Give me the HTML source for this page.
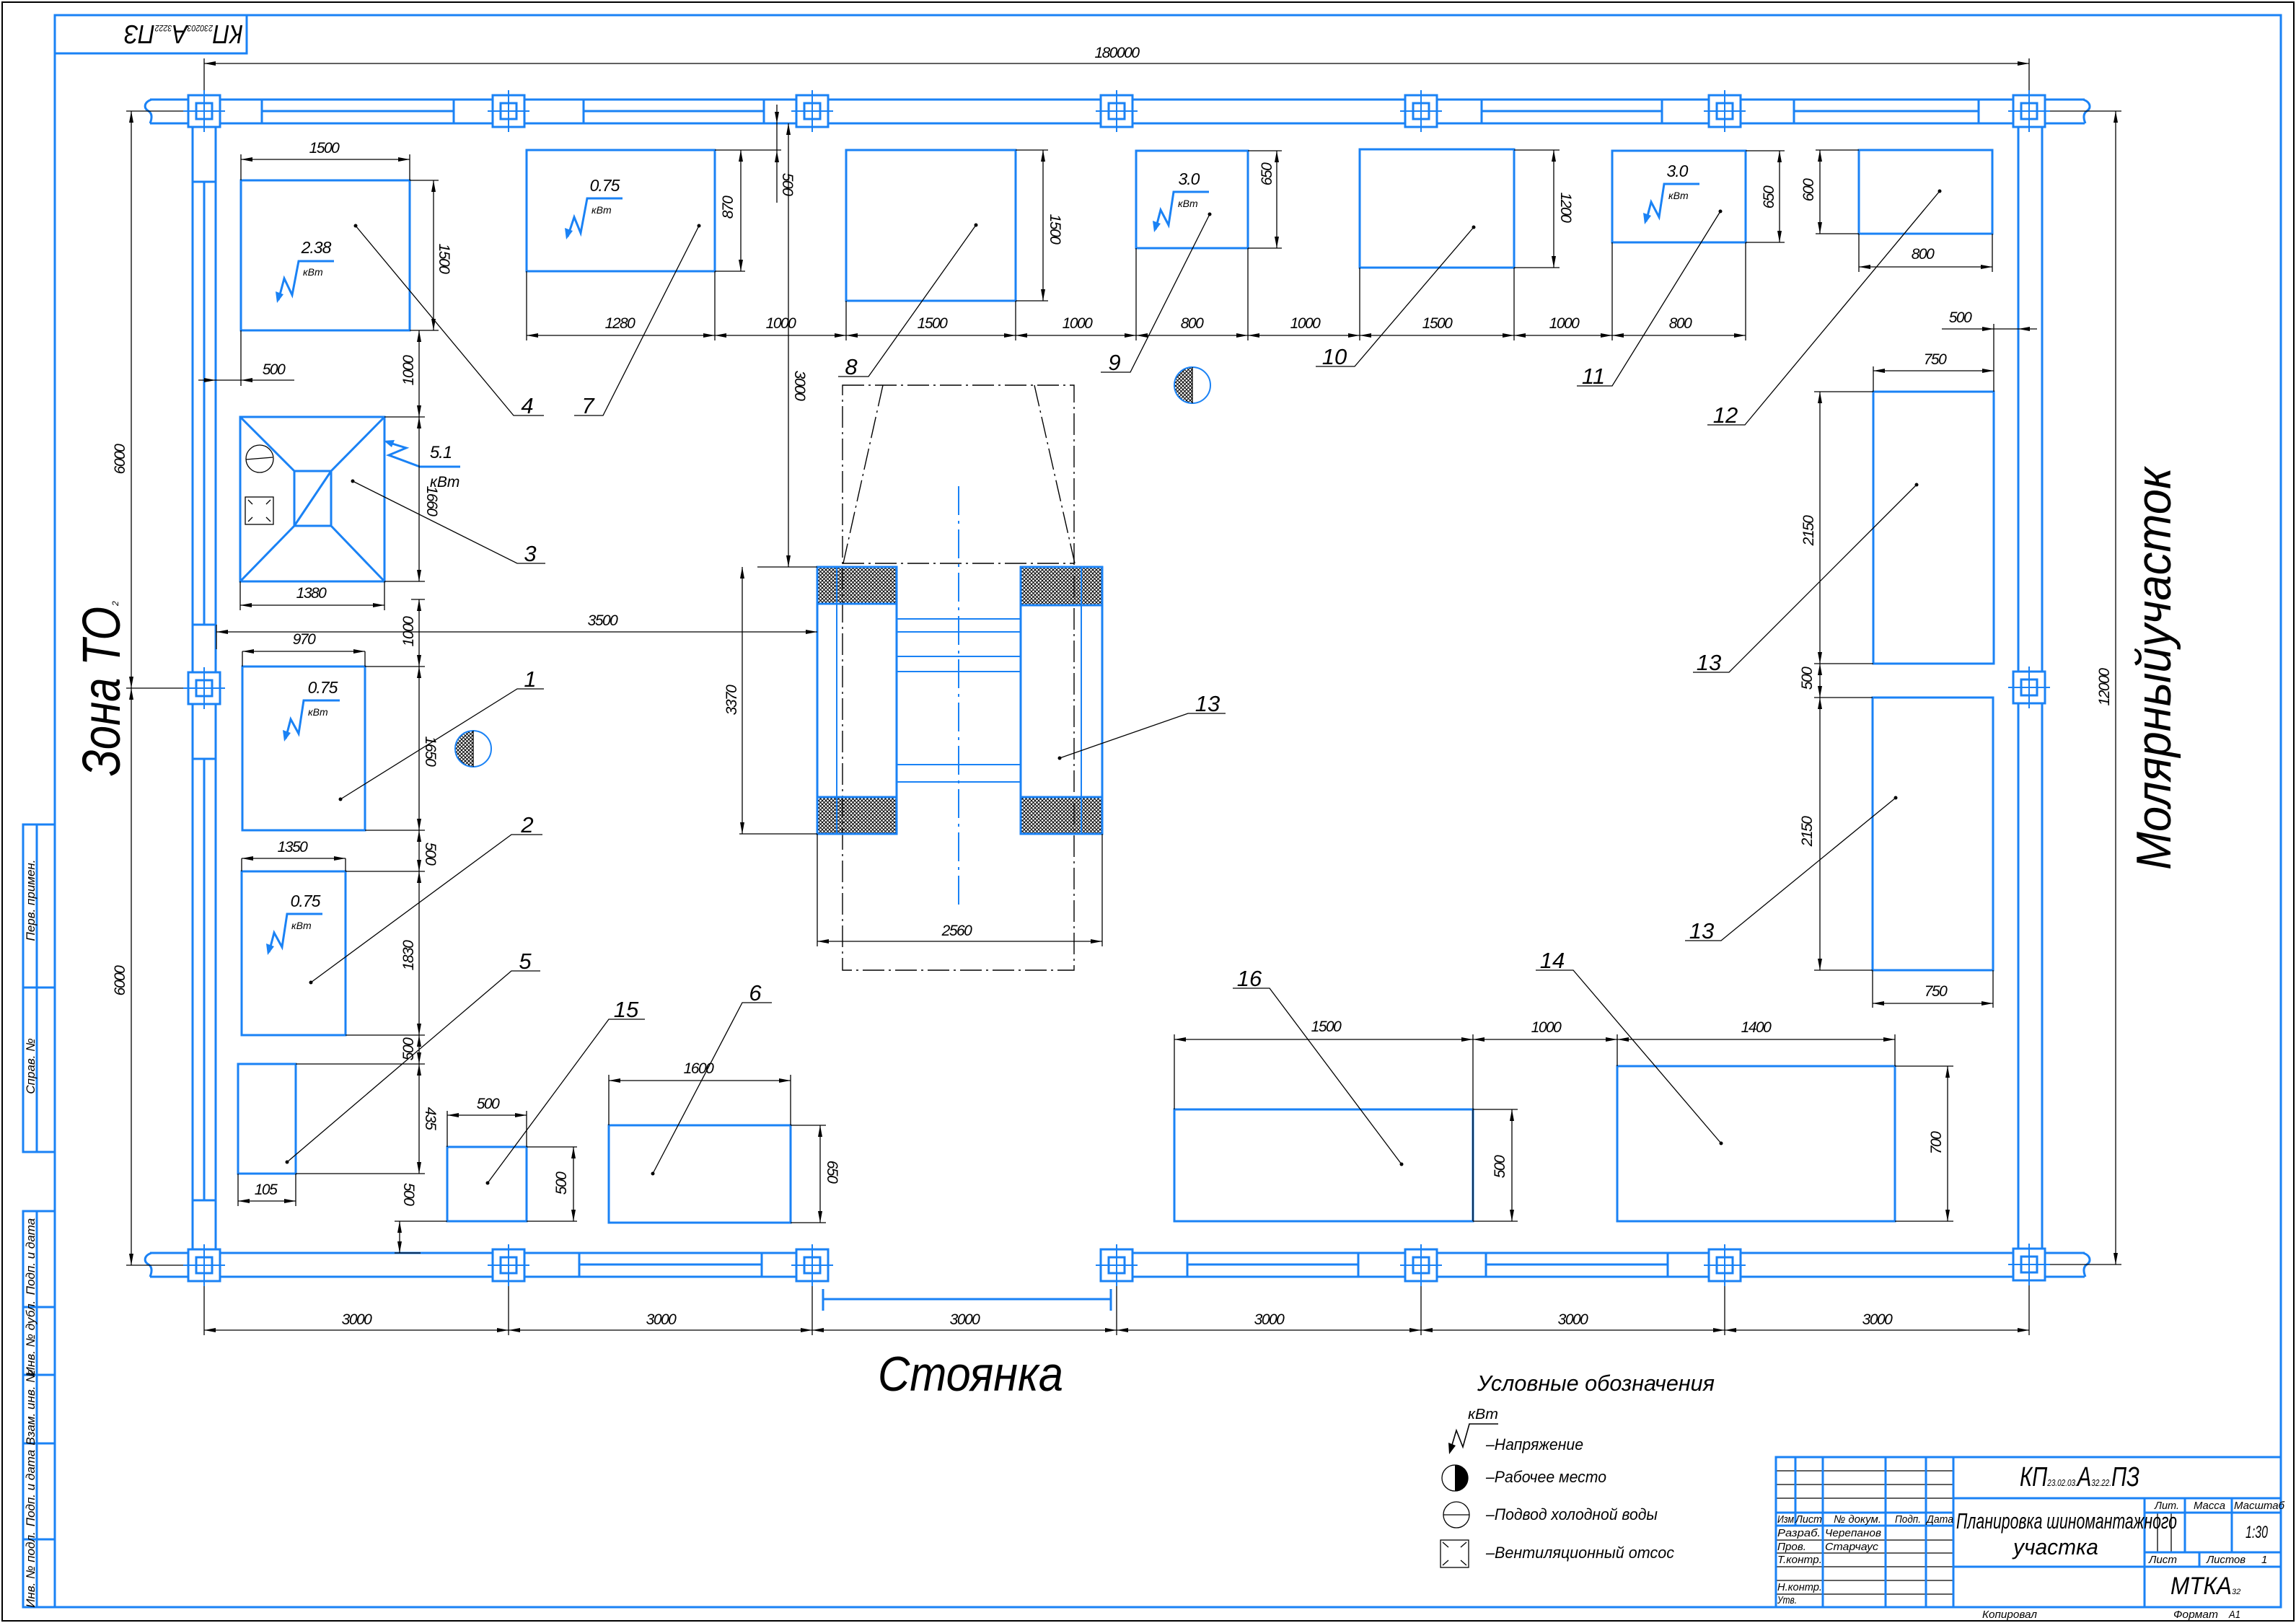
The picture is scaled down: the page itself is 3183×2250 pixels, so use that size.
<!DOCTYPE html>
<html><head><meta charset="utf-8"><title>Планировка шиномантажного участка</title>
<style>
html,body{margin:0;padding:0;background:#fff}
svg{display:block}
.b{stroke:#1a82f5;stroke-width:3;fill:none}
.bw{stroke:#1a82f5;stroke-width:3;fill:#fff}
.b2{stroke:#1a82f5;stroke-width:2;fill:none}
.k{stroke:#000;stroke-width:1.3;fill:none}
.d{stroke:#000;stroke-width:1.3;fill:none;marker-start:url(#a);marker-end:url(#a)}
.dd{stroke:#000;stroke-width:1.4;fill:none;stroke-dasharray:30 6 3 6}
text{font-family:"Liberation Sans","Noto Sans CJK SC",sans-serif;font-style:italic;fill:#000}
.n{font-size:21px;letter-spacing:-1.5px}
.l{font-size:31px}
.s{font-size:15px}
.v{font-size:17px}
</style></head><body>
<svg width="3183" height="2250" viewBox="0 0 3183 2250" xmlns="http://www.w3.org/2000/svg">
<defs>
<marker id="a" viewBox="0 0 16 6" refX="16" refY="3" markerWidth="16" markerHeight="6" markerUnits="userSpaceOnUse" orient="auto-start-reverse"><path d="M0,0L16,3L0,6z" fill="#000"/></marker>
<pattern id="h" width="5" height="5" patternUnits="userSpaceOnUse"><path d="M0,0L5,5M5,0L0,5" stroke="#000" stroke-width="1"/></pattern>
</defs>
<rect width="3183" height="2250" fill="#fff"/>
<!-- frames -->
<rect x="3" y="3" width="3177" height="2244" fill="none" stroke="#000" stroke-width="2"/>
<rect x="76" y="21" width="3086" height="2207" class="b"/>
<rect x="76" y="21" width="266" height="53" class="b"/>
<text transform="translate(337,35) rotate(180)" font-size="36" textLength="165" lengthAdjust="spacingAndGlyphs">КП<tspan font-size="12">230203</tspan>А<tspan font-size="12">3222</tspan>ПЗ</text>

<!-- side strip -->
<g class="b">
<rect x="32" y="1143" width="44" height="454"/>
<line x1="51" y1="1143" x2="51" y2="1597"/>
<line x1="32" y1="1369" x2="76" y2="1369"/>
<rect x="32" y="1679" width="44" height="549"/>
<line x1="51" y1="1679" x2="51" y2="2228"/>
<line x1="32" y1="1812" x2="76" y2="1812"/>
<line x1="32" y1="1906" x2="76" y2="1906"/>
<line x1="32" y1="2001" x2="76" y2="2001"/>
<line x1="32" y1="2134" x2="76" y2="2134"/>
</g>
<g class="v">
<text transform="translate(48,1248) rotate(-90)" text-anchor="middle">Перв. примен.</text>
<text transform="translate(48,1478) rotate(-90)" text-anchor="middle">Справ. №</text>
<text transform="translate(48,1742) rotate(-90)" text-anchor="middle">Подп. и дата</text>
<text transform="translate(48,1855) rotate(-90)" text-anchor="middle">Инв. № дубл.</text>
<text transform="translate(48,1951) rotate(-90)" text-anchor="middle">Взам. инв. №</text>
<text transform="translate(48,2063) rotate(-90)" text-anchor="middle">Подп. и дата</text>
<text transform="translate(48,2176) rotate(-90)" text-anchor="middle">Инв. № подл.</text>
</g>

<!-- walls -->
<g class="b">
<line x1="208" y1="138" x2="2890" y2="138"/>
<line x1="208" y1="171" x2="267" y2="171"/>
<line x1="299" y1="171" x2="2798" y2="171"/>
<line x1="2831" y1="171" x2="2890" y2="171"/>
<line x1="267" y1="171" x2="267" y2="1737"/>
<line x1="299" y1="171" x2="299" y2="1737"/>
<line x1="2798" y1="171" x2="2798" y2="1737"/>
<line x1="2831" y1="171" x2="2831" y2="1737"/>
<line x1="208" y1="1737" x2="267" y2="1737"/>
<line x1="299" y1="1737" x2="1105" y2="1737"/>
<line x1="1570" y1="1737" x2="2798" y2="1737"/>
<line x1="2831" y1="1737" x2="2890" y2="1737"/>
<line x1="208" y1="1770" x2="1105" y2="1770"/>
<line x1="1570" y1="1770" x2="2890" y2="1770"/>
<path d="M210,138 C199,142 199,150 206,154 C212,158 210,166 208,171"/>
<path d="M2888,138 C2899,142 2899,150 2893,154 C2887,158 2889,166 2891,171"/>
<path d="M210,1737 C199,1741 199,1749 206,1753 C212,1757 210,1765 208,1770"/>
<path d="M2888,1737 C2899,1741 2899,1749 2893,1753 C2887,1757 2889,1765 2891,1770"/>
<!-- top windows -->
<line x1="363" y1="138" x2="363" y2="171"/><line x1="629" y1="138" x2="629" y2="171"/><line x1="363" y1="154" x2="629" y2="154"/>
<line x1="809" y1="138" x2="809" y2="171"/><line x1="1059" y1="138" x2="1059" y2="171"/><line x1="809" y1="154" x2="1059" y2="154"/>
<line x1="2054" y1="138" x2="2054" y2="171"/><line x1="2304" y1="138" x2="2304" y2="171"/><line x1="2054" y1="154" x2="2304" y2="154"/>
<line x1="2487" y1="138" x2="2487" y2="171"/><line x1="2743" y1="138" x2="2743" y2="171"/><line x1="2487" y1="154" x2="2743" y2="154"/>
<!-- left windows -->
<line x1="267" y1="252" x2="299" y2="252"/><line x1="267" y1="866" x2="299" y2="866"/><line x1="283" y1="252" x2="283" y2="866"/>
<line x1="267" y1="1052" x2="299" y2="1052"/><line x1="267" y1="1664" x2="299" y2="1664"/><line x1="283" y1="1052" x2="283" y2="1664"/>
<!-- bottom windows -->
<line x1="803" y1="1737" x2="803" y2="1770"/><line x1="1056" y1="1737" x2="1056" y2="1770"/><line x1="803" y1="1753" x2="1056" y2="1753"/>
<line x1="1646" y1="1737" x2="1646" y2="1770"/><line x1="1883" y1="1737" x2="1883" y2="1770"/><line x1="1646" y1="1753" x2="1883" y2="1753"/>
<line x1="2060" y1="1737" x2="2060" y2="1770"/><line x1="2312" y1="1737" x2="2312" y2="1770"/><line x1="2060" y1="1753" x2="2312" y2="1753"/>
<!-- door -->
<line x1="1141" y1="1801" x2="1540" y2="1801"/>
<line x1="1141" y1="1787" x2="1141" y2="1817"/><line x1="1540" y1="1787" x2="1540" y2="1817"/>
</g>

<!-- black ext lines through columns -->
<g class="k">
<line x1="283" y1="81" x2="283" y2="183"/><line x1="2813" y1="81" x2="2813" y2="183"/>
<line x1="175" y1="154" x2="311" y2="154"/><line x1="175" y1="954" x2="311" y2="954"/><line x1="175" y1="1754" x2="311" y2="1754"/>
<line x1="2785" y1="154" x2="2941" y2="154"/><line x1="2785" y1="953" x2="2841" y2="953"/><line x1="2785" y1="1753" x2="2941" y2="1753"/>
<line x1="283" y1="1726" x2="283" y2="1851"/><line x1="705" y1="1726" x2="705" y2="1851"/><line x1="1126" y1="1726" x2="1126" y2="1851"/><line x1="1548" y1="1726" x2="1548" y2="1851"/><line x1="1970" y1="1726" x2="1970" y2="1851"/><line x1="2391" y1="1726" x2="2391" y2="1851"/><line x1="2813" y1="1726" x2="2813" y2="1851"/>
</g>

<!-- columns -->
<g>
<g transform="translate(283,154)"><rect x="-22" y="-22" width="44" height="44" class="bw"/><rect x="-11" y="-11" width="22" height="22" class="b"/><path d="M-29,0H29M0,-29V29" class="b2"/></g>
<g transform="translate(705,154)"><rect x="-22" y="-22" width="44" height="44" class="bw"/><rect x="-11" y="-11" width="22" height="22" class="b"/><path d="M-29,0H29M0,-29V29" class="b2"/></g>
<g transform="translate(1126,154)"><rect x="-22" y="-22" width="44" height="44" class="bw"/><rect x="-11" y="-11" width="22" height="22" class="b"/><path d="M-29,0H29M0,-29V29" class="b2"/></g>
<g transform="translate(1548,154)"><rect x="-22" y="-22" width="44" height="44" class="bw"/><rect x="-11" y="-11" width="22" height="22" class="b"/><path d="M-29,0H29M0,-29V29" class="b2"/></g>
<g transform="translate(1970,154)"><rect x="-22" y="-22" width="44" height="44" class="bw"/><rect x="-11" y="-11" width="22" height="22" class="b"/><path d="M-29,0H29M0,-29V29" class="b2"/></g>
<g transform="translate(2391,154)"><rect x="-22" y="-22" width="44" height="44" class="bw"/><rect x="-11" y="-11" width="22" height="22" class="b"/><path d="M-29,0H29M0,-29V29" class="b2"/></g>
<g transform="translate(2813,154)"><rect x="-22" y="-22" width="44" height="44" class="bw"/><rect x="-11" y="-11" width="22" height="22" class="b"/><path d="M-29,0H29M0,-29V29" class="b2"/></g>
<g transform="translate(283,954)"><rect x="-22" y="-22" width="44" height="44" class="bw"/><rect x="-11" y="-11" width="22" height="22" class="b"/><path d="M-29,0H29M0,-29V29" class="b2"/></g>
<g transform="translate(2813,953)"><rect x="-22" y="-22" width="44" height="44" class="bw"/><rect x="-11" y="-11" width="22" height="22" class="b"/><path d="M-29,0H29M0,-29V29" class="b2"/></g>
<g transform="translate(283,1754)"><rect x="-22" y="-22" width="44" height="44" class="bw"/><rect x="-11" y="-11" width="22" height="22" class="b"/><path d="M-29,0H29M0,-29V29" class="b2"/></g>
<g transform="translate(705,1754)"><rect x="-22" y="-22" width="44" height="44" class="bw"/><rect x="-11" y="-11" width="22" height="22" class="b"/><path d="M-29,0H29M0,-29V29" class="b2"/></g>
<g transform="translate(1126,1754)"><rect x="-22" y="-22" width="44" height="44" class="bw"/><rect x="-11" y="-11" width="22" height="22" class="b"/><path d="M-29,0H29M0,-29V29" class="b2"/></g>
<g transform="translate(1548,1754)"><rect x="-22" y="-22" width="44" height="44" class="bw"/><rect x="-11" y="-11" width="22" height="22" class="b"/><path d="M-29,0H29M0,-29V29" class="b2"/></g>
<g transform="translate(1970,1754)"><rect x="-22" y="-22" width="44" height="44" class="bw"/><rect x="-11" y="-11" width="22" height="22" class="b"/><path d="M-29,0H29M0,-29V29" class="b2"/></g>
<g transform="translate(2391,1754)"><rect x="-22" y="-22" width="44" height="44" class="bw"/><rect x="-11" y="-11" width="22" height="22" class="b"/><path d="M-29,0H29M0,-29V29" class="b2"/></g>
<g transform="translate(2813,1753)"><rect x="-22" y="-22" width="44" height="44" class="bw"/><rect x="-11" y="-11" width="22" height="22" class="b"/><path d="M-29,0H29M0,-29V29" class="b2"/></g>
</g>

<!-- main dims -->
<g class="d">
<line x1="283" y1="88" x2="2813" y2="88"/>
<line x1="182" y1="154" x2="182" y2="954"/><line x1="182" y1="954" x2="182" y2="1754"/>
<line x1="2933" y1="154" x2="2933" y2="1753"/>
<line x1="283" y1="1844" x2="705" y2="1844"/><line x1="705" y1="1844" x2="1126" y2="1844"/><line x1="1126" y1="1844" x2="1548" y2="1844"/><line x1="1548" y1="1844" x2="1970" y2="1844"/><line x1="1970" y1="1844" x2="2391" y2="1844"/><line x1="2391" y1="1844" x2="2813" y2="1844"/>
</g>
<g class="n">
<text x="1548" y="80" text-anchor="middle">180000</text>
<text transform="translate(173,637) rotate(-90)" text-anchor="middle">6000</text>
<text transform="translate(173,1360) rotate(-90)" text-anchor="middle">6000</text>
<text transform="translate(2924,953) rotate(-90)" text-anchor="middle">12000</text>
<text x="494" y="1836" text-anchor="middle">3000</text>
<text x="916" y="1836" text-anchor="middle">3000</text>
<text x="1337" y="1836" text-anchor="middle">3000</text>
<text x="1759" y="1836" text-anchor="middle">3000</text>
<text x="2180" y="1836" text-anchor="middle">3000</text>
<text x="2602" y="1836" text-anchor="middle">3000</text>
</g>

<!-- equipment boxes -->
<g class="b">
<rect x="334" y="250" width="234" height="208"/>
<rect x="730" y="208" width="261" height="168"/>
<rect x="1173" y="208" width="235" height="209"/>
<rect x="1575" y="209" width="155" height="135"/>
<rect x="1885" y="207" width="214" height="164"/>
<rect x="2235" y="209" width="185" height="127"/>
<rect x="2577" y="208" width="185" height="116"/>
<rect x="333" y="578" width="200" height="228"/>
<rect x="408" y="653" width="51" height="76"/>
<path d="M333,578L408,653M533,578L459,653M333,806L408,729M533,806L459,729M459,653L408,729"/>
<rect x="336" y="924" width="170" height="227"/>
<rect x="335" y="1208" width="144" height="227"/>
<rect x="330" y="1475" width="80" height="152"/>
<rect x="620" y="1590" width="110" height="103"/>
<rect x="844" y="1560" width="252" height="135"/>
<rect x="1628" y="1538" width="414" height="155"/>
<rect x="2242" y="1478" width="385" height="215"/>
<rect x="2597" y="543" width="167" height="377"/>
<rect x="2596" y="967" width="167" height="378"/>
</g>
<!-- obj 3 symbols -->
<circle cx="360" cy="636" r="19" class="k"/><line x1="341" y1="637" x2="378" y2="634" class="k"/>
<rect x="340" y="689" width="39" height="38" class="k"/>
<path d="M344,693L350,699M375,693L369,699M344,723L350,717M375,723L369,717" class="k"/>

<!-- kBт symbols -->
<g>
<polyline points="463,362 414,362 405,409 394,386 386,416" class="b"/><polygon points="384,420 382,404 393,408" fill="#1a82f5"/>
<text x="438" y="351" text-anchor="middle" font-size="23" letter-spacing="-1">2.38</text><text x="420" y="382" font-size="14">кВт</text>
<polyline points="863,275 814,275 805,323 796,301 787,328" class="b"/><polygon points="785,332 783,316 794,320" fill="#1a82f5"/>
<text x="838" y="265" text-anchor="middle" font-size="23" letter-spacing="-1">0.75</text><text x="820" y="296" font-size="14">кВт</text>
<polyline points="471,971 421,971 414,1017 403,997 396,1024" class="b"/><polygon points="394,1028 392,1012 403,1016" fill="#1a82f5"/>
<text x="447" y="961" text-anchor="middle" font-size="23" letter-spacing="-1">0.75</text><text x="427" y="992" font-size="14">кВт</text>
<polyline points="447,1267 398,1267 391,1313 380,1293 373,1320" class="b"/><polygon points="371,1324 369,1308 380,1312" fill="#1a82f5"/>
<text x="423" y="1257" text-anchor="middle" font-size="23" letter-spacing="-1">0.75</text><text x="404" y="1288" font-size="14">кВт</text>
<polyline points="1676,266 1627,266 1620,312 1609,291 1602,318" class="b"/><polygon points="1600,322 1598,306 1609,310" fill="#1a82f5"/>
<text x="1648" y="256" text-anchor="middle" font-size="23" letter-spacing="-1">3.0</text><text x="1633" y="287" font-size="14">кВт</text>
<polyline points="2356,255 2307,255 2300,301 2289,280 2282,307" class="b"/><polygon points="2280,311 2278,295 2289,299" fill="#1a82f5"/>
<text x="2325" y="245" text-anchor="middle" font-size="23" letter-spacing="-1">3.0</text><text x="2313" y="276" font-size="14">кВт</text>
<polyline points="638,647 582,647 539,631 563,621 537,613" class="b"/><polygon points="532,611 547,610 543,620" fill="#1a82f5"/>
<text x="611" y="635" text-anchor="middle" font-size="24" letter-spacing="-1">5.1</text><text x="596" y="675" font-size="21">кВт</text>
</g>

<!-- workplace circles -->
<path d="M1653,509 A25,25 0 0 0 1653,559 Z" fill="url(#h)"/><circle cx="1653" cy="534" r="25" class="b2"/><line x1="1653" y1="509" x2="1653" y2="559" class="k"/>
<path d="M656,1013 A25,25 0 0 0 656,1063 Z" fill="url(#h)"/><circle cx="656" cy="1038" r="25" class="b2"/><line x1="656" y1="1013" x2="656" y2="1063" class="k"/>

<!-- lift -->
<rect x="1168" y="534" width="321" height="811" class="dd"/>
<path d="M1224,534L1169,781M1434,534L1490,781M1168,781H1489" class="dd"/>
<line x1="1329" y1="674" x2="1329" y2="1261" stroke="#1a82f5" stroke-width="2" stroke-dasharray="40 8 4 8"/>
<rect x="1133" y="786" width="110" height="51" fill="url(#h)"/>
<rect x="1133" y="1105" width="110" height="51" fill="url(#h)"/>
<rect x="1415" y="786" width="113" height="53" fill="url(#h)"/>
<rect x="1415" y="1105" width="113" height="51" fill="url(#h)"/>
<g class="b">
<rect x="1133" y="786" width="110" height="370"/>
<rect x="1415" y="786" width="113" height="370"/>
<path d="M1133,837H1243M1133,1105H1243M1415,839H1528M1415,1105H1528"/>
</g>
<g class="b2">
<path d="M1160,786V1156M1499,786V1156"/>
<path d="M1243,858H1415M1243,876H1415M1243,910H1415M1243,931H1415M1243,1060H1415M1243,1084H1415"/>
</g>

<!-- extension lines -->
<g class="k">
<path d="M334,214V250M568,214V250M568,250H608M568,458H608M334,458V535"/>
<path d="M533,578H589M533,806H589M333,806V846M533,806V846M570,831H589"/>
<path d="M991,208H1083M991,376H1033M730,376V472M991,376V472"/>
<path d="M1173,417V472M1408,417V472M1408,208H1453M1408,417H1453"/>
<path d="M1575,344V472M1730,344V472M1730,209H1777M1730,344H1777"/>
<path d="M1885,371V472M2099,371V472M2099,208H2162M2099,371H2162"/>
<path d="M2235,336V472M2420,336V472M2420,209H2474M2420,336H2474"/>
<path d="M2517,208H2577M2517,324H2577M2577,324V377M2762,324V377"/>
<path d="M2764,449V543M2597,508V543M2515,543H2597M2515,920H2597M2515,967H2596M2515,1345H2596M2596,1345V1397M2763,1345V1397"/>
<path d="M1050,786H1133M1025,1156H1133M1133,1156V1312M1528,1156V1312M300,866V900"/>
<path d="M506,924H589M506,1151H589M479,1208H589M479,1435H589M410,1475H589M410,1627H589"/>
<path d="M336,903V924M506,903V924M335,1190V1208M479,1190V1208"/>
<path d="M330,1627V1672M410,1627V1672M547,1693H620M547,1737H583"/>
<path d="M620,1540V1590M730,1540V1590M730,1590H800M730,1693H800"/>
<path d="M844,1490V1560M1096,1490V1560M1096,1560H1145M1096,1695H1145"/>
<path d="M1628,1434V1538M2042,1434V1693M2042,1538H2104M2042,1693H2104"/>
<path d="M2242,1434V1478M2627,1434V1478M2627,1478H2708M2627,1693H2708"/>
</g>

<!-- dims -->
<g class="d">
<line x1="334" y1="221" x2="568" y2="221"/>
<line x1="601" y1="250" x2="601" y2="458"/>
<line x1="581" y1="458" x2="581" y2="578"/>
<line x1="581" y1="578" x2="581" y2="806"/>
<line x1="333" y1="839" x2="533" y2="839"/>
<line x1="1027" y1="208" x2="1027" y2="376"/>
<line x1="730" y1="465" x2="991" y2="465"/>
<line x1="991" y1="465" x2="1173" y2="465"/>
<line x1="1173" y1="465" x2="1408" y2="465"/>
<line x1="1408" y1="465" x2="1575" y2="465"/>
<line x1="1575" y1="465" x2="1730" y2="465"/>
<line x1="1730" y1="465" x2="1885" y2="465"/>
<line x1="1885" y1="465" x2="2099" y2="465"/>
<line x1="2099" y1="465" x2="2235" y2="465"/>
<line x1="2235" y1="465" x2="2420" y2="465"/>
<line x1="1093" y1="171" x2="1093" y2="786"/>
<line x1="1446" y1="208" x2="1446" y2="417"/>
<line x1="1770" y1="209" x2="1770" y2="344"/>
<line x1="2154" y1="208" x2="2154" y2="371"/>
<line x1="2467" y1="209" x2="2467" y2="336"/>
<line x1="2523" y1="208" x2="2523" y2="324"/>
<line x1="2577" y1="370" x2="2762" y2="370"/>
<line x1="2597" y1="514" x2="2764" y2="514"/>
<line x1="2523" y1="543" x2="2523" y2="920"/>
<line x1="2523" y1="920" x2="2523" y2="967"/>
<line x1="2523" y1="967" x2="2523" y2="1345"/>
<line x1="2596" y1="1391" x2="2763" y2="1391"/>
<line x1="300" y1="876" x2="1133" y2="876"/>
<line x1="1029" y1="786" x2="1029" y2="1156"/>
<line x1="1133" y1="1305" x2="1528" y2="1305"/>
<line x1="336" y1="903" x2="506" y2="903"/>
<line x1="581" y1="831" x2="581" y2="924"/>
<line x1="581" y1="924" x2="581" y2="1151"/>
<line x1="581" y1="1151" x2="581" y2="1208"/>
<line x1="335" y1="1190" x2="479" y2="1190"/>
<line x1="581" y1="1208" x2="581" y2="1435"/>
<line x1="581" y1="1435" x2="581" y2="1475"/>
<line x1="581" y1="1475" x2="581" y2="1627"/>
<line x1="330" y1="1665" x2="410" y2="1665"/>
<line x1="554" y1="1693" x2="554" y2="1737"/>
<line x1="620" y1="1546" x2="730" y2="1546"/>
<line x1="795" y1="1590" x2="795" y2="1693"/>
<line x1="844" y1="1498" x2="1096" y2="1498"/>
<line x1="1137" y1="1560" x2="1137" y2="1695"/>
<line x1="1628" y1="1441" x2="2042" y2="1441"/>
<line x1="2096" y1="1538" x2="2096" y2="1693"/>
<line x1="2042" y1="1441" x2="2242" y2="1441"/>
<line x1="2242" y1="1441" x2="2627" y2="1441"/>
<line x1="2700" y1="1478" x2="2700" y2="1693"/>
</g>
<!-- short outside-arrow dims -->
<g class="k">
<line x1="275" y1="527" x2="408" y2="527"/>
<line x1="1077" y1="145" x2="1077" y2="281"/>
<line x1="2692" y1="456" x2="2824" y2="456"/>
</g>
<g fill="#000">
<polygon points="299,527 283,524 283,530"/><polygon points="334,527 350,524 350,530"/>
<polygon points="1077,171 1074,155 1080,155"/><polygon points="1077,209 1074,225 1080,225"/>
<polygon points="2764,456 2748,453 2748,459"/><polygon points="2798,456 2814,453 2814,459"/>
</g>

<!-- dim texts -->
<g class="n">
<text x="449" y="212" text-anchor="middle">1500</text>
<text x="379" y="519" text-anchor="middle">500</text>
<text x="431" y="829" text-anchor="middle">1380</text>
<text x="859" y="455" text-anchor="middle">1280</text>
<text x="1082" y="455" text-anchor="middle">1000</text>
<text x="1292" y="455" text-anchor="middle">1500</text>
<text x="1493" y="455" text-anchor="middle">1000</text>
<text x="1652" y="455" text-anchor="middle">800</text>
<text x="1809" y="455" text-anchor="middle">1000</text>
<text x="1992" y="455" text-anchor="middle">1500</text>
<text x="2168" y="455" text-anchor="middle">1000</text>
<text x="2329" y="455" text-anchor="middle">800</text>
<text x="421" y="893" text-anchor="middle">970</text>
<text x="835" y="867" text-anchor="middle">3500</text>
<text x="405" y="1181" text-anchor="middle">1350</text>
<text x="368" y="1656" text-anchor="middle">105</text>
<text x="676" y="1537" text-anchor="middle">500</text>
<text x="968" y="1488" text-anchor="middle">1600</text>
<text x="1326" y="1297" text-anchor="middle">2560</text>
<text x="1838" y="1430" text-anchor="middle">1500</text>
<text x="2143" y="1431" text-anchor="middle">1000</text>
<text x="2434" y="1431" text-anchor="middle">1400</text>
<text x="2665" y="359" text-anchor="middle">800</text>
<text x="2717" y="447" text-anchor="middle">500</text>
<text x="2682" y="505" text-anchor="middle">750</text>
<text x="2683" y="1381" text-anchor="middle">750</text>
<text transform="translate(573,514) rotate(-90)" text-anchor="middle">1000</text>
<text transform="translate(1016,288) rotate(-90)" text-anchor="middle">870</text>
<text transform="translate(1763,242) rotate(-90)" text-anchor="middle">650</text>
<text transform="translate(2459,274) rotate(-90)" text-anchor="middle">650</text>
<text transform="translate(2514,264) rotate(-90)" text-anchor="middle">600</text>
<text transform="translate(2514,736) rotate(-90)" text-anchor="middle">2150</text>
<text transform="translate(2512,941) rotate(-90)" text-anchor="middle">500</text>
<text transform="translate(2512,1153) rotate(-90)" text-anchor="middle">2150</text>
<text transform="translate(2691,1585) rotate(-90)" text-anchor="middle">700</text>
<text transform="translate(2086,1618) rotate(-90)" text-anchor="middle">500</text>
<text transform="translate(1021,971) rotate(-90)" text-anchor="middle">3370</text>
<text transform="translate(573,876) rotate(-90)" text-anchor="middle">1000</text>
<text transform="translate(573,1325) rotate(-90)" text-anchor="middle">1830</text>
<text transform="translate(573,1455) rotate(-90)" text-anchor="middle">500</text>
<text transform="translate(785,1641) rotate(-90)" text-anchor="middle">500</text>
<text transform="translate(609,358) rotate(90)" text-anchor="middle">1500</text>
<text transform="translate(592,694) rotate(90)" text-anchor="middle">1660</text>
<text transform="translate(1085,255) rotate(90)" text-anchor="middle">500</text>
<text transform="translate(1102,534) rotate(90)" text-anchor="middle">3000</text>
<text transform="translate(1456,317) rotate(90)" text-anchor="middle">1500</text>
<text transform="translate(2164,287) rotate(90)" text-anchor="middle">1200</text>
<text transform="translate(590,1041) rotate(90)" text-anchor="middle">1650</text>
<text transform="translate(590,1183) rotate(90)" text-anchor="middle">500</text>
<text transform="translate(590,1550) rotate(90)" text-anchor="middle">435</text>
<text transform="translate(560,1655) rotate(90)" text-anchor="middle">500</text>
<text transform="translate(1147,1624) rotate(90)" text-anchor="middle">650</text>
</g>

<!-- leaders -->
<g class="k">
<path d="M493,313L712,576H754"/>
<path d="M969,313L836,576H796"/>
<path d="M489,667L717,781H756"/>
<path d="M472,1108L717,955H754"/>
<path d="M431,1362L709,1157H752"/>
<path d="M398,1611L709,1346H749"/>
<path d="M676,1640L844,1413H894"/>
<path d="M905,1627L1029,1390H1070"/>
<path d="M1353,312L1204,522H1162"/>
<path d="M1677,297L1567,516H1526"/>
<path d="M2043,315L1878,508H1824"/>
<path d="M2385,293L2235,535H2186"/>
<path d="M2689,265L2419,589H2367"/>
<path d="M2657,672L2397,932H2347"/>
<path d="M2628,1106L2386,1304H2336"/>
<path d="M1469,1051L1647,989H1699"/>
<path d="M2386,1585L2181,1345H2129"/>
<path d="M1943,1614L1760,1370H1709"/>
</g>
<g fill="#000">
<circle cx="493" cy="313" r="2.5"/><circle cx="969" cy="313" r="2.5"/><circle cx="489" cy="667" r="2.5"/><circle cx="472" cy="1108" r="2.5"/><circle cx="431" cy="1362" r="2.5"/><circle cx="398" cy="1611" r="2.5"/><circle cx="676" cy="1640" r="2.5"/><circle cx="905" cy="1627" r="2.5"/><circle cx="1353" cy="312" r="2.5"/><circle cx="1677" cy="297" r="2.5"/><circle cx="2043" cy="315" r="2.5"/><circle cx="2385" cy="293" r="2.5"/><circle cx="2689" cy="265" r="2.5"/><circle cx="2657" cy="672" r="2.5"/><circle cx="2628" cy="1106" r="2.5"/><circle cx="1469" cy="1051" r="2.5"/><circle cx="2386" cy="1585" r="2.5"/><circle cx="1943" cy="1614" r="2.5"/>
</g>
<g class="l" text-anchor="middle">
<text x="731" y="573">4</text>
<text x="815" y="573">7</text>
<text x="735" y="778">3</text>
<text x="735" y="952">1</text>
<text x="731" y="1154">2</text>
<text x="728" y="1343">5</text>
<text x="868" y="1410">15</text>
<text x="1047" y="1387">6</text>
<text x="1180" y="519">8</text>
<text x="1545" y="513">9</text>
<text x="1850" y="505">10</text>
<text x="2209" y="532">11</text>
<text x="2392" y="586">12</text>
<text x="2369" y="929">13</text>
<text x="2359" y="1301">13</text>
<text x="1674" y="986">13</text>
<text x="2152" y="1342">14</text>
<text x="1732" y="1367">16</text>
</g>

<!-- zone labels -->
<text transform="translate(166,1076) rotate(-90)" font-size="74" textLength="235" lengthAdjust="spacingAndGlyphs">Зона ТО</text>
<text transform="translate(164,840) rotate(-90)" font-size="12">2</text>
<text transform="translate(3009,1206) rotate(-90)" font-size="68" textLength="558" lengthAdjust="spacingAndGlyphs">Молярныйучасток</text>
<text x="1217" y="1928" font-size="68" textLength="257" lengthAdjust="spacingAndGlyphs">Стоянка</text>

<!-- legend -->
<text x="2048" y="1928" font-size="31" textLength="329" lengthAdjust="spacingAndGlyphs">Условные обозначения</text>
<polyline points="2077,1974 2037,1974 2028,2006 2019,1983 2010,2013" class="k" style="stroke-width:1.6"/>
<polygon points="2009,2016 2008,2000 2018,2004" fill="#000"/>
<text x="2035" y="1967" font-size="20" textLength="42" lengthAdjust="spacingAndGlyphs">кВт</text>
<text x="2060" y="2010" font-size="22" textLength="135" lengthAdjust="spacingAndGlyphs">–Напряжение</text>
<circle cx="2017" cy="2049" r="18" class="k"/><path d="M2017,2031 A18,18 0 0 1 2017,2067 Z" fill="#000"/>
<text x="2060" y="2055" font-size="22" textLength="167" lengthAdjust="spacingAndGlyphs">–Рабочее место</text>
<circle cx="2019" cy="2100" r="18" class="k"/><line x1="2001" y1="2100" x2="2037" y2="2100" class="k"/>
<text x="2060" y="2107" font-size="22" textLength="238" lengthAdjust="spacingAndGlyphs">–Подвод холодной воды</text>
<rect x="1997" y="2135" width="39" height="38" class="k"/>
<path d="M2000,2138L2008,2145M2033,2138L2025,2145M2000,2170L2008,2163M2033,2170L2025,2163" class="k"/>
<text x="2060" y="2160" font-size="22" textLength="261" lengthAdjust="spacingAndGlyphs">–Вентиляционный отсос</text>

<!-- title block -->
<g class="k">
<path d="M2462,2039H2708M2462,2058H2708M2462,2077H2708M2462,2135H2708M2462,2153H2708M2462,2172H2708M2462,2191H2708M2462,2210H2708"/>
<path d="M2991,2097V2152M3010,2097V2152"/>
</g>
<g class="b">
<rect x="2462" y="2020" width="700" height="208"/>
<path d="M2489,2020V2115M2527,2020V2228M2614,2020V2228M2670,2020V2228M2708,2020V2228"/>
<path d="M2462,2097H2708M2462,2115H2708"/>
<path d="M2708,2077H3162M2708,2172H3162M2973,2077V2228M2973,2097H3162M2973,2152H3162M3029,2077V2152M3094,2077V2152M3049,2152V2172"/>
</g>
<text x="2800" y="2060" font-size="38" textLength="166" lengthAdjust="spacingAndGlyphs">КП<tspan font-size="13">23.02.03.</tspan>А<tspan font-size="13">32.22.</tspan>ПЗ</text>
<text x="2712" y="2119" font-size="31" textLength="306" lengthAdjust="spacingAndGlyphs">Планировка шиномантажного</text>
<text x="2791" y="2155" font-size="31" textLength="118" lengthAdjust="spacingAndGlyphs">участка</text>
<g class="s">
<text x="2464" y="2111" textLength="23" lengthAdjust="spacingAndGlyphs">Изм</text>
<text x="2489" y="2111" textLength="37" lengthAdjust="spacingAndGlyphs">Лист</text>
<text x="2542" y="2111" textLength="66" lengthAdjust="spacingAndGlyphs">№ докум.</text>
<text x="2627" y="2111" textLength="36" lengthAdjust="spacingAndGlyphs">Подп.</text>
<text x="2671" y="2111" textLength="37" lengthAdjust="spacingAndGlyphs">Дата</text>
<text x="2464" y="2130" textLength="60" lengthAdjust="spacingAndGlyphs">Разраб.</text>
<text x="2530" y="2130" textLength="78" lengthAdjust="spacingAndGlyphs">Черепанов</text>
<text x="2464" y="2149" textLength="40" lengthAdjust="spacingAndGlyphs">Пров.</text>
<text x="2530" y="2149" textLength="74" lengthAdjust="spacingAndGlyphs">Старчаус</text>
<text x="2464" y="2167" textLength="62" lengthAdjust="spacingAndGlyphs">Т.контр.</text>
<text x="2464" y="2205" textLength="62" lengthAdjust="spacingAndGlyphs">Н.контр.</text>
<text x="2464" y="2223" textLength="27" lengthAdjust="spacingAndGlyphs">Утв.</text>
<text x="2987" y="2092" textLength="34" lengthAdjust="spacingAndGlyphs">Лит.</text>
<text x="3041" y="2092" textLength="44" lengthAdjust="spacingAndGlyphs">Масса</text>
<text x="3097" y="2092" textLength="70" lengthAdjust="spacingAndGlyphs">Масштаб</text>
<text x="2979" y="2167" textLength="39" lengthAdjust="spacingAndGlyphs">Лист</text>
<text x="3059" y="2167" textLength="54" lengthAdjust="spacingAndGlyphs">Листов</text>
<text x="3135" y="2167">1</text>
<text x="2748" y="2243" textLength="76" lengthAdjust="spacingAndGlyphs">Копировал</text>
<text x="3013" y="2243" textLength="62" lengthAdjust="spacingAndGlyphs">Формат</text>
<text x="3090" y="2243" textLength="16" lengthAdjust="spacingAndGlyphs">А1</text>
</g>
<text x="3113" y="2132" font-size="24" textLength="31" lengthAdjust="spacingAndGlyphs">1:30</text>
<text x="3009" y="2210" font-size="34" textLength="85" lengthAdjust="spacingAndGlyphs">МТКА</text>
<text x="3094" y="2210" font-size="11">32</text>
</svg>
</body></html>
